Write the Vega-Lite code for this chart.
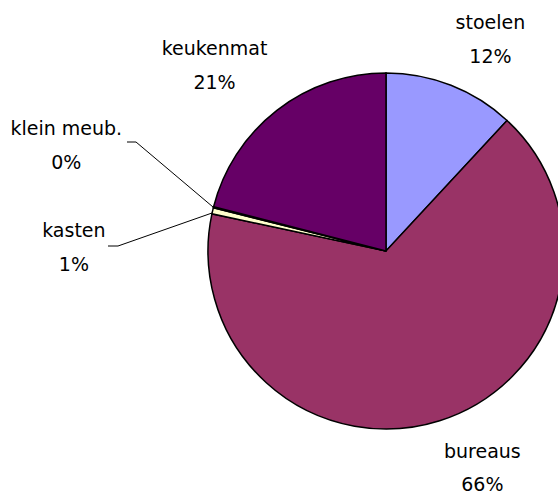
{
  "$schema": "https://vega.github.io/schema/vega-lite/v6.json",
  "width": 558,
  "height": 496,
  "autosize": {"type": "none"},
  "padding": 0,
  "background": "white",
  "config": {"view": {"stroke": null}},
  "datasets": {
    "slices": [
      {"cat": "stoelen", "value": 11.9, "rank": 1},
      {"cat": "bureaus", "value": 66.45, "rank": 2},
      {"cat": "kasten", "value": 0.55, "rank": 3},
      {"cat": "klein meub.", "value": 0.1, "rank": 4},
      {"cat": "keukenmat", "value": 21.0, "rank": 5}
    ],
    "leaders": [
      {"g": "klein meub.", "i": 1, "lx": -259, "ly": 109},
      {"g": "klein meub.", "i": 2, "lx": -250, "ly": 109},
      {"g": "klein meub.", "i": 3, "lx": -173, "ly": 44},
      {"g": "kasten", "i": 1, "lx": -278, "ly": 5},
      {"g": "kasten", "i": 2, "lx": -268, "ly": 5},
      {"g": "kasten", "i": 3, "lx": -174, "ly": 38}
    ]
  },
  "layer": [
    {
      "data": {"name": "slices"},
      "mark": {"type": "arc", "radius": 178, "stroke": "black", "strokeWidth": 1.5},
      "encoding": {
        "theta": {"field": "value", "type": "quantitative", "stack": true},
        "order": {"field": "rank", "type": "quantitative"},
        "color": {"field": "cat", "type": "nominal", "legend": null,
          "scale": {"domain": ["stoelen", "bureaus", "kasten", "klein meub.", "keukenmat"],
                    "range": ["#9999FF", "#993366", "#FFFFCC", "#CCFFFF", "#660066"]}},
        "x": {"datum": 0, "type": "quantitative", "axis": null, "scale": {"domain": [-386, 172], "nice": false, "zero": false}},
        "y": {"datum": 0, "type": "quantitative", "axis": null, "scale": {"domain": [-245, 251], "nice": false, "zero": false}}
      }
    },
    {
      "data": {"name": "leaders"},
      "mark": {"type": "line", "stroke": "#000000", "strokeWidth": 1},
      "encoding": {
        "x": {"field": "lx", "type": "quantitative", "axis": null},
        "y": {"field": "ly", "type": "quantitative", "axis": null},
        "detail": {"field": "g"},
        "order": {"field": "i", "type": "quantitative"}
      }
    },
    {
      "data": {"name": "slices"},
      "transform": [{"calculate": "datum.cat + '\\n' + format(datum.value / 100, '.0%')", "as": "label"}],
      "mark": {"type": "text", "radius": 234, "dx": 19, "dy": -10, "font": "DejaVu Sans", "fontSize": 19, "lineHeight": 34, "lineBreak": "\n", "align": "center", "baseline": "middle", "color": "#000000"},
      "encoding": {
        "theta": {"field": "value", "type": "quantitative", "stack": true},
        "order": {"field": "rank", "type": "quantitative"},
        "x": {"datum": 0, "type": "quantitative"},
        "y": {"datum": 0, "type": "quantitative"},
        "text": {"condition": {"test": "datum.cat === 'stoelen'", "field": "label"}, "value": ""}
      }
    },
    {
      "data": {"name": "slices"},
      "transform": [{"calculate": "datum.cat + '\\n' + format(datum.value / 100, '.0%')", "as": "label"}],
      "mark": {"type": "text", "radius": 240, "dx": 24, "dy": -28, "font": "DejaVu Sans", "fontSize": 19, "lineHeight": 33, "lineBreak": "\n", "align": "center", "baseline": "middle", "color": "#000000"},
      "encoding": {
        "theta": {"field": "value", "type": "quantitative", "stack": true},
        "order": {"field": "rank", "type": "quantitative"},
        "x": {"datum": 0, "type": "quantitative"},
        "y": {"datum": 0, "type": "quantitative"},
        "text": {"condition": {"test": "datum.cat === 'bureaus'", "field": "label"}, "value": ""}
      }
    },
    {
      "data": {"name": "slices"},
      "transform": [{"calculate": "datum.cat + '\\n' + format(datum.value / 100, '.0%')", "as": "label"}],
      "mark": {"type": "text", "radius": 252, "dx": -17, "dy": -3, "font": "DejaVu Sans", "fontSize": 19, "lineHeight": 34, "lineBreak": "\n", "align": "center", "baseline": "middle", "color": "#000000"},
      "encoding": {
        "theta": {"field": "value", "type": "quantitative", "stack": true},
        "order": {"field": "rank", "type": "quantitative"},
        "x": {"datum": 0, "type": "quantitative"},
        "y": {"datum": 0, "type": "quantitative"},
        "text": {"condition": {"test": "datum.cat === 'keukenmat'", "field": "label"}, "value": ""}
      }
    },
    {
      "data": {"name": "slices"},
      "transform": [{"calculate": "datum.cat + '\\n' + format(datum.value / 100, '.0%')", "as": "label"}],
      "mark": {"type": "text", "radius": 306, "dx": -14, "dy": 49, "font": "DejaVu Sans", "fontSize": 19, "lineHeight": 34, "lineBreak": "\n", "align": "center", "baseline": "middle", "color": "#000000"},
      "encoding": {
        "theta": {"field": "value", "type": "quantitative", "stack": true},
        "order": {"field": "rank", "type": "quantitative"},
        "x": {"datum": 0, "type": "quantitative"},
        "y": {"datum": 0, "type": "quantitative"},
        "text": {"condition": {"test": "datum.cat === 'kasten'", "field": "label"}, "value": ""}
      }
    },
    {
      "data": {"name": "slices"},
      "transform": [{"calculate": "datum.cat + '\\n' + format(datum.value / 100, '.0%')", "as": "label"}],
      "mark": {"type": "text", "radius": 336, "dx": 6, "dy": -39, "font": "DejaVu Sans", "fontSize": 19, "lineHeight": 34, "lineBreak": "\n", "align": "center", "baseline": "middle", "color": "#000000"},
      "encoding": {
        "theta": {"field": "value", "type": "quantitative", "stack": true},
        "order": {"field": "rank", "type": "quantitative"},
        "x": {"datum": 0, "type": "quantitative"},
        "y": {"datum": 0, "type": "quantitative"},
        "text": {"condition": {"test": "datum.cat === 'klein meub.'", "field": "label"}, "value": ""}
      }
    }
  ]
}
